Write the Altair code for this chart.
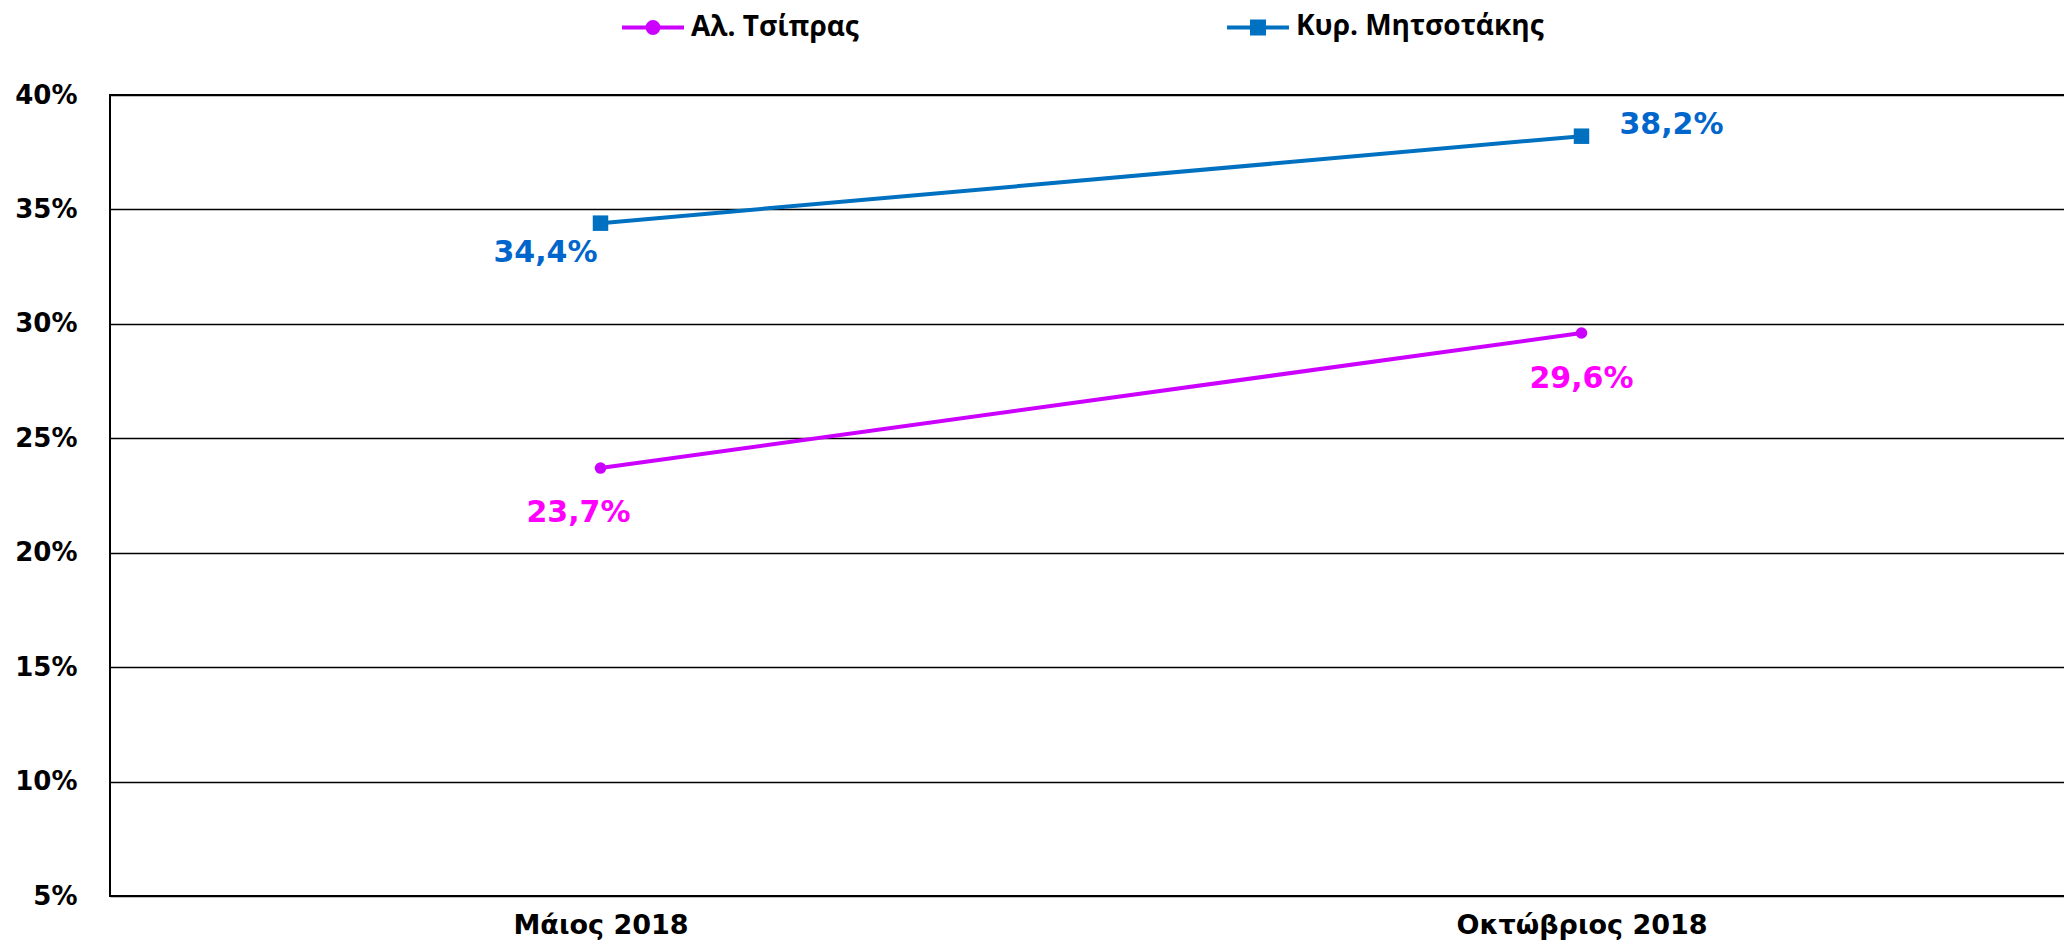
import altair as alt
import pandas as pd

months = ["Μάιος 2018", "Οκτώβριος 2018"]
series_names = ["Αλ. Τσίπρας", "Κυρ. Μητσοτάκης"]
tsipras = [23.7, 29.6]
mitsotakis = [34.4, 38.2]
y_ticks = [5, 10, 15, 20, 25, 30, 35, 40]

line_colors = ["#CC00FF", "#0070C0"]
label_colors = ["#FF00FF", "#0066CC"]

rows = []
for name, vals in zip(series_names, [tsipras, mitsotakis]):
    for i, (m, v) in enumerate(zip(months, vals)):
        rows.append({"name": name, "month": m, "value": v, "idx": i,
                     "label": f"{v:.1f}".replace(".", ",") + "%"})
df = pd.DataFrame(rows)

base = alt.Chart(df)

x = alt.X("month:N", sort=months,
          scale=alt.Scale(type="point", padding=0.5),
          axis=alt.Axis(title=None, labelAngle=0, domain=False, ticks=False, grid=False,
                        labelFont="DejaVu Sans", labelFontWeight="bold", labelFontSize=27,
                        labelColor="#000000", labelPadding=16, labelLimit=0))
y = alt.Y("value:Q",
          scale=alt.Scale(domain=[5, 40], nice=False, zero=False),
          axis=alt.Axis(title=None, values=y_ticks, labelExpr="datum.value + '%'",
                        domain=False, ticks=False, grid=True, gridColor="#000000",
                        gridWidth=1.5, labelFont="DejaVu Sans", labelFontWeight="bold",
                        labelFontSize=26, labelColor="#000000", labelPadding=33))

cscale = alt.Scale(domain=series_names, range=line_colors)

# legend glyphs: line segment plus concentric outlines that stroke into a solid marker
circle_path = ("M-1,0H1"
               "M0.177,0A0.177,0.177,0,1,1,-0.177,0A0.177,0.177,0,1,1,0.177,0Z"
               "M0.065,0A0.065,0.065,0,1,1,-0.065,0A0.065,0.065,0,1,1,0.065,0Z")
square_path = ("M-1,0H1"
               "M-0.194,-0.194H0.194V0.194H-0.194Z"
               "M-0.065,-0.065H0.065V0.065H-0.065Z")

leg = alt.Legend(
    title=None, orient="none", legendX=510, legendY=-101, direction="horizontal",
    symbolSize=3844, symbolStrokeWidth=4, symbolOpacity=1, symbolFillColor="transparent",
    labelFont="Open Sans", labelFontWeight="bold", labelFontSize=28, labelColor="#000000",
    labelOffset=5, columnPadding=360, labelLimit=0,
)

legend_layer = base.mark_point(filled=False, opacity=0).encode(
    x=x, y=y,
    color=alt.Color("name:N", scale=cscale, legend=leg),
    shape=alt.Shape("name:N", scale=alt.Scale(domain=series_names, range=[circle_path, square_path]),
                    legend=leg),
)

line = base.mark_line(strokeWidth=4).encode(
    x=x, y=y, color=alt.Color("name:N", scale=cscale, legend=None))

circles = base.transform_filter(alt.datum.name == series_names[0]).mark_circle(
    size=135, opacity=1).encode(x=x, y=y, color=alt.Color("name:N", scale=cscale, legend=None))
squares = base.transform_filter(alt.datum.name == series_names[1]).mark_square(
    size=240, opacity=1).encode(x=x, y=y, color=alt.Color("name:N", scale=cscale, legend=None))

offsets = {
    (series_names[0], 0): (-22, 45),
    (series_names[0], 1): (0, 46),
    (series_names[1], 0): (-55, 30),
    (series_names[1], 1): (90, -11),
}

text_layers = []
for s, name in enumerate(series_names):
    for i in range(len(months)):
        dx, dy = offsets[(name, i)]
        t = base.transform_filter(
            (alt.datum.name == name) & (alt.datum.idx == i)
        ).mark_text(font="DejaVu Sans", fontWeight="bold", fontSize=30,
                    color=label_colors[s], dx=dx, dy=dy, baseline="middle", align="center"
        ).encode(x=x, y=y, text="label:N")
        text_layers.append(t)

chart = alt.layer(legend_layer, line, circles, squares, *text_layers).properties(
    width=1962, height=801,
    autosize=alt.AutoSizeParams(type="none"),
    padding={"left": 102, "top": 87, "right": -8, "bottom": 44},
    background="#FFFFFF",
).configure_view(stroke="#000000", strokeWidth=2)

chart.save("out.html", embed_options={"renderer": "svg", "actions": False})
